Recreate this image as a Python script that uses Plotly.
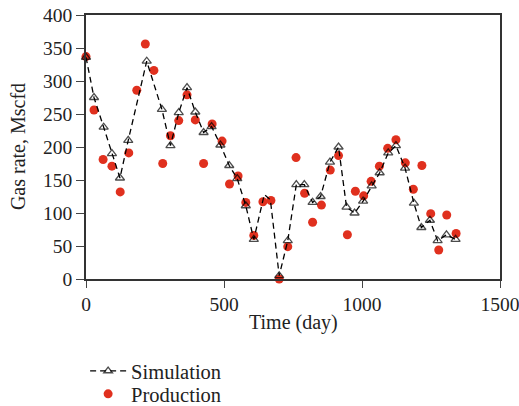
import plotly.graph_objects as go

sim_day = [0, 29, 64, 94, 123, 153, 220, 275, 306, 336, 366, 396, 426, 455, 487, 519, 548, 579, 608,
           646, 668, 700, 731, 762, 791, 821, 850, 884, 915, 944, 973, 1004, 1035, 1064, 1095, 1123,
           1156, 1188, 1215, 1246, 1274, 1306, 1339]
sim_rate = [336, 275, 230, 190, 153, 210, 330, 257, 202, 252, 290, 253, 222, 231, 203, 172, 152, 111, 60,
            128, 120, 5, 58, 143, 143, 116, 125, 177, 200, 109, 100, 118, 141, 161, 191, 202,
            168, 115, 78, 89, 58, 67, 60]
sim_marker_size = [8 if d not in (646, 668) else 0 for d in sim_day]

prod_day = [0, 29, 62, 94, 124, 155, 184, 215, 246, 278, 306, 336, 366, 396, 426, 457, 493, 520, 551, 579,
            608, 641, 670, 700, 731, 761, 792, 821, 853, 885, 915, 947, 976, 1006, 1033, 1063, 1093,
            1123, 1157, 1186, 1217, 1249, 1278, 1307, 1341]
prod_rate = [337, 256, 181, 171, 132, 191, 286, 356, 316, 175, 217, 240, 279, 241, 175, 235, 209, 144, 156, 116,
             66, 117, 119, 0, 49, 184, 130, 86, 112, 165, 187, 67, 133, 126, 148, 171, 198,
             211, 176, 136, 172, 99, 44, 97, 69]

x_ticks = [0, 500, 1000, 1500]
y_ticks = [0, 50, 100, 150, 200, 250, 300, 350, 400]
x_title = "Time (day)"
y_title = "Gas rate, Mscfd"

fig = go.Figure()
fig.add_trace(go.Scatter(
    x=prod_day, y=prod_rate, mode="markers", name="Production",
    marker=dict(symbol="circle", size=9, color="#e0301e"),
    legend="legend2", cliponaxis=False,
))
fig.add_trace(go.Scatter(
    x=sim_day, y=sim_rate, mode="lines+markers", name="Simulation",
    line=dict(color="black", width=1.3, dash="6px,4px"),
    marker=dict(symbol="triangle-up-open", size=sim_marker_size, color="black", line=dict(width=1.3)),
    legend="legend", cliponaxis=False,
))

font = "Liberation Serif"
fs = 19.5
tickfont = dict(family=font, size=fs, color="#222")
leg_common = dict(xref="container", yref="container", x=0.164, xanchor="left", yanchor="middle",
                  bgcolor="rgba(0,0,0,0)", font=dict(family=font, size=20.5, color="#222"),
                  itemwidth=36)
fig.update_layout(
    width=519, height=406,
    margin=dict(l=86, r=19, t=15, b=127, autoexpand=False),
    paper_bgcolor="white", plot_bgcolor="white",
    font=dict(family=font, size=fs, color="#222"),
    showlegend=True,
    legend=dict(y=1 - 371 / 406, **leg_common),
    legend2=dict(y=1 - 394 / 406, **leg_common),
    xaxis=dict(range=[0, 1500], tickvals=x_ticks, ticks="outside", ticklen=7, tickwidth=1.3,
               tickfont=tickfont, ticklabeloverflow="allow", automargin=False,
               showline=True, linecolor="#333", linewidth=1.5, mirror=True, showgrid=False,
               zeroline=False),
    yaxis=dict(range=[0, 400], tickvals=y_ticks, ticks="outside", ticklen=8, tickwidth=1.3,
               tickfont=tickfont, automargin=False,
               showline=True, linecolor="#333", linewidth=1.5, mirror=True, showgrid=False,
               zeroline=False),
    annotations=[
        dict(text=x_title, xref="paper", yref="paper", x=0.5, y=-0.163, xanchor="center",
             yanchor="middle", showarrow=False, font=dict(family=font, size=20, color="#222")),
        dict(text=y_title, xref="paper", yref="paper", x=-0.164, y=0.5, xanchor="center",
             yanchor="middle", textangle=-90, showarrow=False,
             font=dict(family=font, size=20, color="#222")),
    ],
)
fig.write_html("out.html", config={"displayModeBar": False},
               post_script="document.body.style.margin='0';")
